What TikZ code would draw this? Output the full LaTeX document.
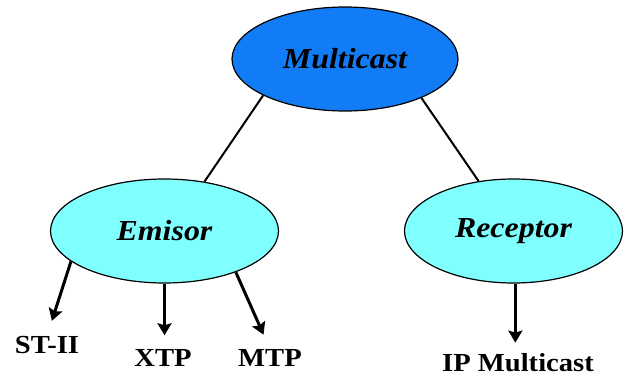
\documentclass[tikz,border=0pt]{standalone}
\usepackage{fontspec}
\setmainfont{Liberation Serif}
\usetikzlibrary{shapes.geometric,arrows.meta}
\definecolor{rootblue}{RGB}{17,124,245}
\definecolor{leafcyan}{RGB}{128,255,255}
\tikzset{
  bubble/.style={ellipse, draw=black, line width=1.2pt, inner sep=0pt,
    font=\fontsize{29}{32}\selectfont\bfseries\itshape},
  rootbubble/.style={bubble, fill=rootblue, minimum width=226pt, minimum height=104pt},
  childbubble/.style={bubble, fill=leafcyan, minimum width=228pt, minimum height=104pt},
  leaflabel/.style={font=\fontsize{26}{30}\selectfont\bfseries, inner sep=0pt},
  branch/.style={line width=2pt},
  pointer/.style={line width=3pt, -{Stealth[length=12pt,width=14pt,inset=2pt]}},
}
\newcommand{\widetext}[1]{\scalebox{1.1}[1]{#1}}

\begin{document}
\begin{tikzpicture}[x=1pt,y=-1pt]
\useasboundingbox (0,0) rectangle (624,377);

% the three ellipses
\node[rootbubble]  (mc) at (345,59)  {\widetext{Multicast}};
\node[childbubble] (em) at (164.5,231) {\widetext{Emisor}};
\node[childbubble, minimum width=218pt] (rc) at (513.5,231) {\widetext{Receptor}};

% protocol labels
\node[leaflabel] (st)  at (47,345)  {\widetext{ST-II}};
\node[leaflabel] (xtp) at (163,358) {\widetext{XTP}};
\node[leaflabel] (mtp) at (270,358) {\widetext{MTP}};
\node[leaflabel] (ip)  at (518,363) {\widetext{IP Multicast}};

% tree branches
\draw[branch] (mc.204.6) -- (em.51.8);
\draw[branch] (mc.333.7) -- (rc.125.2);

% arrows to the protocols
\draw[pointer, shorten >=16pt] (em.198.7) -- (st.north);
\draw[pointer, shorten >=14pt] (em.south) -- (em.south |- xtp.north);
\draw[pointer, shorten >=16pt] (em.330.8) -- (mtp.north);
\draw[pointer, shorten >=11pt] (rc.272) -- (rc.272 |- ip.north);
\end{tikzpicture}
\end{document}
